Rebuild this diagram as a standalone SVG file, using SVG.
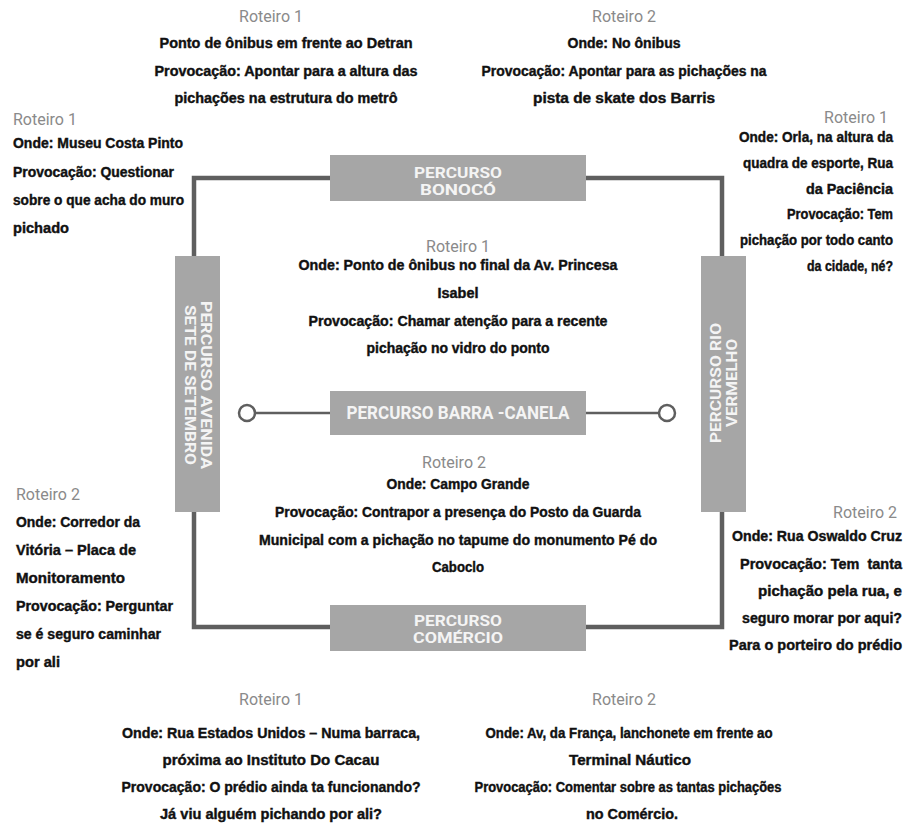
<svg xmlns="http://www.w3.org/2000/svg" width="906" height="827" viewBox="0 0 906 827">
<style>
.b{font-family:"Liberation Sans",Arial,sans-serif;font-weight:bold;font-size:14px;fill:#111;stroke:#111;stroke-width:0.4;}
.g{font-family:Roboto,"Liberation Sans",sans-serif;font-size:16px;fill:#8a8a8a;}
.m{text-anchor:middle;}
.e{text-anchor:end;}
.box{fill:#a6a6a6;}
.bt{font-family:Roboto,"Liberation Sans",sans-serif;font-weight:bold;font-size:14.5px;fill:#f4f4f4;text-anchor:middle;}
.ln{fill:none;stroke:#5f5f5f;stroke-width:4.5;}
.cl{fill:none;stroke:#5f5f5f;stroke-width:2.5;}
.ci{fill:#fff;stroke:#5f5f5f;stroke-width:2.5;}
</style>
<rect width="906" height="827" fill="#fff"/>
<g id="connectors">
<rect class="ln" x="194" y="178" width="528" height="449"/>
<line class="cl" x1="255" y1="413" x2="330" y2="413"/>
<line class="cl" x1="586" y1="413" x2="659" y2="413"/>
<circle class="ci" cx="247" cy="413" r="8"/>
<circle class="ci" cx="667" cy="413" r="8"/>
</g>
<g id="percurso-bonoco">
<rect class="box" x="330" y="155" width="256" height="46"/>
<text class="bt" x="458" y="178" textLength="88" lengthAdjust="spacingAndGlyphs">PERCURSO</text>
<text class="bt" x="458" y="195" textLength="76" lengthAdjust="spacingAndGlyphs">BONOCÓ</text>
</g>
<g id="percurso-barra-canela">
<rect class="box" x="330" y="391" width="256" height="44"/>
<text class="bt" x="458" y="419" style="font-size:17.5px" textLength="223" lengthAdjust="spacingAndGlyphs">PERCURSO BARRA -CANELA</text>
</g>
<g id="percurso-comercio">
<rect class="box" x="330" y="605" width="256" height="46"/>
<text class="bt" x="458" y="626" textLength="88" lengthAdjust="spacingAndGlyphs">PERCURSO</text>
<text class="bt" x="458" y="643" textLength="90" lengthAdjust="spacingAndGlyphs">COMÉRCIO</text>
</g>
<g id="percurso-sete">
<rect class="box" x="175" y="256" width="45" height="256"/>
<text class="bt" transform="translate(201,385) rotate(90)" textLength="168" lengthAdjust="spacingAndGlyphs">PERCURSO AVENIDA</text>
<text class="bt" transform="translate(185,385) rotate(90)" textLength="160" lengthAdjust="spacingAndGlyphs">SETE DE SETEMBRO</text>
</g>
<g id="percurso-rio-vermelho">
<rect class="box" x="701" y="256" width="45" height="256"/>
<text class="bt" transform="translate(721,383) rotate(-90)" textLength="120" lengthAdjust="spacingAndGlyphs">PERCURSO RIO</text>
<text class="bt" transform="translate(737,383) rotate(-90)" textLength="88" lengthAdjust="spacingAndGlyphs">VERMELHO</text>
</g>
<g id="bonoco-roteiro1">
<text class="g m" x="271" y="22">Roteiro 1</text>
<text class="b m" x="286" y="48" textLength="253" lengthAdjust="spacingAndGlyphs">Ponto de ônibus em frente ao Detran</text>
<text class="b m" x="286" y="76" textLength="263" lengthAdjust="spacingAndGlyphs">Provocação: Apontar para a altura das</text>
<text class="b m" x="286" y="103" textLength="223" lengthAdjust="spacingAndGlyphs">pichações na estrutura do metrô</text>
</g>
<g id="bonoco-roteiro2">
<text class="g m" x="624" y="22">Roteiro 2</text>
<text class="b m" x="624" y="48" textLength="113" lengthAdjust="spacingAndGlyphs">Onde: No ônibus</text>
<text class="b m" x="624" y="76" textLength="285" lengthAdjust="spacingAndGlyphs">Provocação: Apontar para as pichações na</text>
<text class="b m" x="624" y="103" textLength="182" lengthAdjust="spacingAndGlyphs">pista de skate dos Barris</text>
</g>
<g id="sete-roteiro1">
<text class="g" x="13" y="125">Roteiro 1</text>
<text class="b" x="13" y="148" textLength="170" lengthAdjust="spacingAndGlyphs">Onde: Museu Costa Pinto</text>
<text class="b" x="13" y="177" textLength="161" lengthAdjust="spacingAndGlyphs">Provocação: Questionar</text>
<text class="b" x="13" y="205" textLength="171" lengthAdjust="spacingAndGlyphs">sobre o que acha do muro</text>
<text class="b" x="13" y="233" textLength="56" lengthAdjust="spacingAndGlyphs">pichado</text>
</g>
<g id="rio-roteiro1">
<text class="g e" x="888" y="123">Roteiro 1</text>
<text class="b e" x="893" y="142" textLength="154" lengthAdjust="spacingAndGlyphs">Onde: Orla, na altura da</text>
<text class="b e" x="893" y="168" textLength="150" lengthAdjust="spacingAndGlyphs">quadra de esporte, Rua</text>
<text class="b e" x="893" y="194" textLength="87" lengthAdjust="spacingAndGlyphs">da Paciência</text>
<text class="b e" x="893" y="219" textLength="106" lengthAdjust="spacingAndGlyphs">Provocação: Tem</text>
<text class="b e" x="893" y="245" textLength="153" lengthAdjust="spacingAndGlyphs">pichação por todo canto</text>
<text class="b e" x="893" y="271" textLength="86" lengthAdjust="spacingAndGlyphs">da cidade, né?</text>
</g>
<g id="barra-roteiro1">
<text class="g m" x="458" y="252">Roteiro 1</text>
<text class="b m" x="458" y="270" textLength="319" lengthAdjust="spacingAndGlyphs">Onde: Ponto de ônibus no final da Av. Princesa</text>
<text class="b m" x="458" y="298" textLength="41" lengthAdjust="spacingAndGlyphs">Isabel</text>
<text class="b m" x="458" y="326" textLength="299" lengthAdjust="spacingAndGlyphs">Provocação: Chamar atenção para a recente</text>
<text class="b m" x="458" y="353" textLength="183" lengthAdjust="spacingAndGlyphs">pichação no vidro do ponto</text>
</g>
<g id="barra-roteiro2">
<text class="g m" x="454" y="468">Roteiro 2</text>
<text class="b m" x="458" y="489" textLength="143" lengthAdjust="spacingAndGlyphs">Onde: Campo Grande</text>
<text class="b m" x="458" y="517" textLength="366" lengthAdjust="spacingAndGlyphs">Provocação: Contrapor a presença do Posto da Guarda</text>
<text class="b m" x="458" y="545" textLength="398" lengthAdjust="spacingAndGlyphs">Municipal com a pichação no tapume do monumento Pé do</text>
<text class="b m" x="458" y="572" textLength="52" lengthAdjust="spacingAndGlyphs">Caboclo</text>
</g>
<g id="sete-roteiro2">
<text class="g" x="16" y="500">Roteiro 2</text>
<text class="b" x="16" y="527" textLength="124" lengthAdjust="spacingAndGlyphs">Onde: Corredor da</text>
<text class="b" x="16" y="555" textLength="120" lengthAdjust="spacingAndGlyphs">Vitória – Placa de</text>
<text class="b" x="16" y="583" textLength="109" lengthAdjust="spacingAndGlyphs">Monitoramento</text>
<text class="b" x="16" y="611" textLength="157" lengthAdjust="spacingAndGlyphs">Provocação: Perguntar</text>
<text class="b" x="16" y="639" textLength="145" lengthAdjust="spacingAndGlyphs">se é seguro caminhar</text>
<text class="b" x="16" y="667" textLength="44" lengthAdjust="spacingAndGlyphs">por ali</text>
</g>
<g id="rio-roteiro2">
<text class="g e" x="897" y="518">Roteiro 2</text>
<text class="b e" x="902" y="541" textLength="170" lengthAdjust="spacingAndGlyphs">Onde: Rua Oswaldo Cruz</text>
<text class="b e" x="902" y="569" textLength="162" lengthAdjust="spacingAndGlyphs" xml:space="preserve">Provocação: Tem  tanta</text>
<text class="b e" x="902" y="596" textLength="144" lengthAdjust="spacingAndGlyphs">pichação pela rua, e</text>
<text class="b e" x="902" y="623" textLength="160" lengthAdjust="spacingAndGlyphs">seguro morar por aqui?</text>
<text class="b e" x="902" y="650" textLength="173" lengthAdjust="spacingAndGlyphs">Para o porteiro do prédio</text>
</g>
<g id="comercio-roteiro1">
<text class="g m" x="271" y="705">Roteiro 1</text>
<text class="b m" x="271" y="738" textLength="298" lengthAdjust="spacingAndGlyphs">Onde: Rua Estados Unidos – Numa barraca,</text>
<text class="b m" x="271" y="765" textLength="217" lengthAdjust="spacingAndGlyphs">próxima ao Instituto Do Cacau</text>
<text class="b m" x="271" y="792" textLength="299" lengthAdjust="spacingAndGlyphs">Provocação: O prédio ainda ta funcionando?</text>
<text class="b m" x="271" y="819" textLength="222" lengthAdjust="spacingAndGlyphs">Já viu alguém pichando por ali?</text>
</g>
<g id="comercio-roteiro2">
<text class="g m" x="624" y="705">Roteiro 2</text>
<text class="b m" x="629" y="738" textLength="287" lengthAdjust="spacingAndGlyphs">Onde: Av, da França, lanchonete em frente ao</text>
<text class="b m" x="630" y="765" textLength="122" lengthAdjust="spacingAndGlyphs">Terminal Náutico</text>
<text class="b m" x="628" y="792" textLength="307" lengthAdjust="spacingAndGlyphs">Provocação: Comentar sobre as tantas pichações</text>
<text class="b m" x="632" y="819" textLength="92" lengthAdjust="spacingAndGlyphs">no Comércio.</text>
</g>
</svg>
